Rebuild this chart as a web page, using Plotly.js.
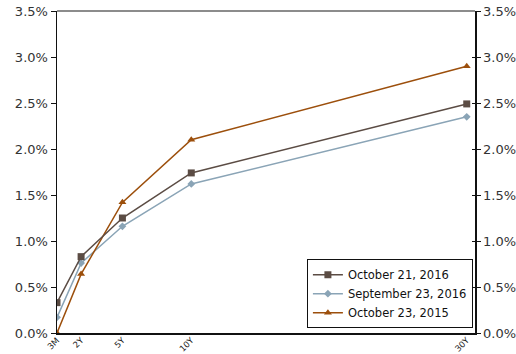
<!DOCTYPE html>
<html><head><meta charset="utf-8">
<script src="https://cdn.plot.ly/plotly-3.0.1.min.js"></script>
<style>html,body{margin:0;padding:0;background:#fff}#c{width:516px;height:354px}</style>
</head><body><div id="c"></div>
<script>
const maturities = [0.25, 2, 5, 10, 30];
const tickLabels = ['3M', '2Y', '5Y', '10Y', '30Y'];
const oct2016 = [0.0033, 0.0083, 0.0125, 0.0174, 0.0249];
const sep2016 = [0.0017, 0.0076, 0.0116, 0.0162, 0.0235];
const oct2015 = [0.0000, 0.0064, 0.0142, 0.0210, 0.0290];
const seriesNames = ['October 21, 2016', 'September 23, 2016', 'October 23, 2015'];

const F = 'Verdana, "DejaVu Sans", sans-serif';
const traces = [
  {x: maturities, y: sep2016, name: seriesNames[1], mode: 'lines+markers',
   line: {color: '#8aa4b6', width: 1.5}, marker: {symbol: 'diamond', size: 6, color: '#8aa4b6'}},
  {x: maturities, y: oct2015, name: seriesNames[2], mode: 'lines+markers',
   line: {color: '#9c4f0c', width: 1.5}, marker: {symbol: 'triangle-up', size: 7, color: '#9c4f0c'}},
  {x: maturities, y: oct2016, name: seriesNames[0], mode: 'lines+markers',
   line: {color: '#5b4c44', width: 1.5}, marker: {symbol: 'square', size: 7, color: '#5b4c44'}},
  {x: [maturities[0]], y: [oct2016[0]], yaxis: 'y2', showlegend: false, hoverinfo: 'skip',
   mode: 'markers', marker: {opacity: 0}},
  {x: [maturities[0]], y: [oct2016[0]], yaxis: 'y3', showlegend: false, hoverinfo: 'skip',
   mode: 'markers', marker: {opacity: 0}}
];
const yCommon = {range: [0, 0.035], dtick: 0.005, tickformat: '.1%', showgrid: false,
  zeroline: false, showline: true, linecolor: '#111', linewidth: 1.5,
  ticklen: 5, tickcolor: '#111', tickfont: {family: F, size: 13, color: '#333'}};
const layout = {
  width: 516, height: 354,
  margin: {l: 57, r: 41, t: 11, b: 21},
  paper_bgcolor: '#fff', plot_bgcolor: '#fff',
  showlegend: true,
  legend: {x: 0.995, y: 0.015, xanchor: 'right', yanchor: 'bottom', bgcolor: '#fff',
    bordercolor: '#111', borderwidth: 1, font: {family: F, size: 11.5, color: '#111'},
    tracegroupgap: 0, itemwidth: 30, traceorder: 'normal'},
  xaxis: {range: [0.25, 30.6], tickvals: maturities, ticktext: tickLabels, tickangle: -45,
    showgrid: false, zeroline: false, showline: true, linecolor: '#111', linewidth: 2,
    ticks: '', ticklabelstandoff: -3, automargin: false,
    tickfont: {family: F, size: 8.5, color: '#222'}},
  yaxis: Object.assign({}, yCommon, {ticks: 'outside', side: 'left'}),
  yaxis2: Object.assign({}, yCommon, {ticks: 'outside', side: 'right', overlaying: 'y', ticklen: 4}),
  yaxis3: Object.assign({}, yCommon, {ticks: 'inside', side: 'right', overlaying: 'y', ticklen: 3, showticklabels: false}),
  shapes: [{type: 'line', xref: 'paper', yref: 'paper', x0: 0, x1: 1, y0: 1, y1: 1,
    line: {color: '#666', width: 1.5}}]
};
traces[2].legendrank = 1; traces[0].legendrank = 2; traces[1].legendrank = 3;
Plotly.newPlot('c', traces, layout, {staticPlot: true});
</script></body></html>
